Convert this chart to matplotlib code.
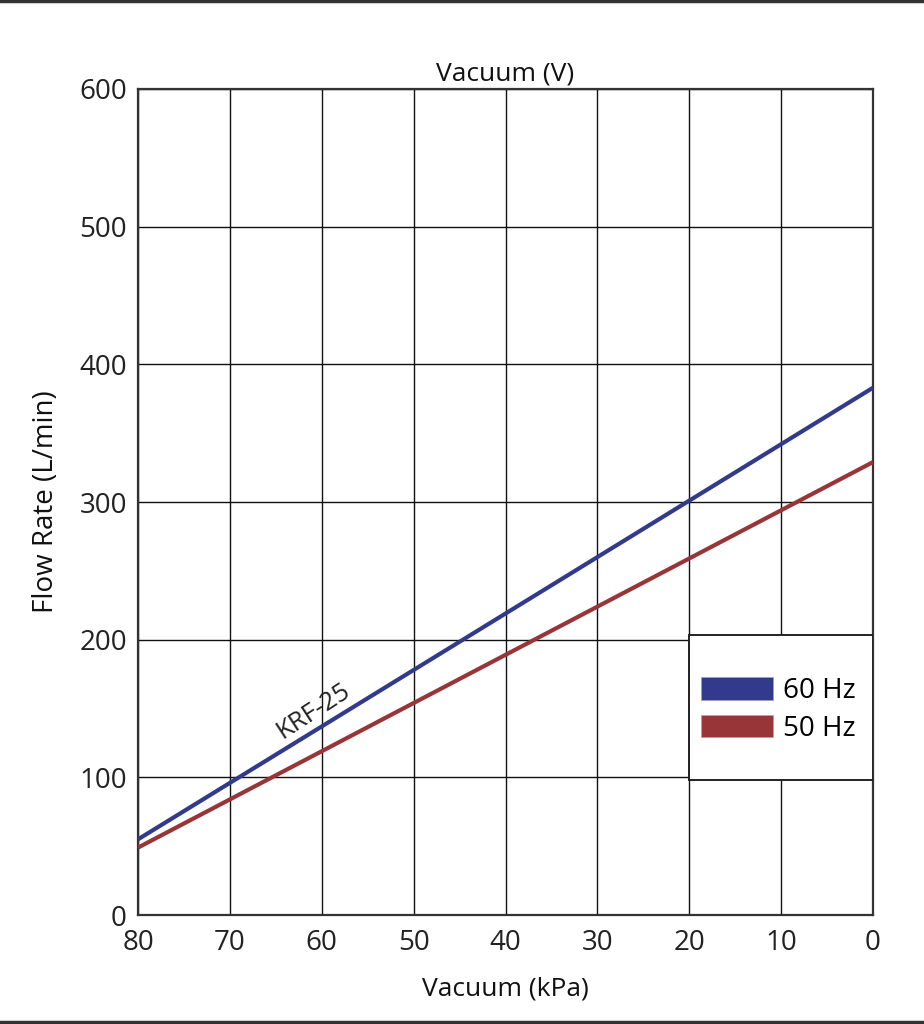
import matplotlib
matplotlib.use("Agg")
import matplotlib.pyplot as plt
from matplotlib.patches import Patch, Rectangle
from matplotlib.lines import Line2D

plt.rcParams['font.family'] = ['Open Sans', 'DejaVu Sans']

# Data
vacuum_kpa = [80, 0]
flow_60hz = [55, 383]
flow_50hz = [49, 329]
series_labels = ["60 Hz", "50 Hz"]
x_ticks = [80, 70, 60, 50, 40, 30, 20, 10, 0]
y_ticks = [0, 100, 200, 300, 400, 500, 600]
model_label = "KRF-25"

blue = "#323a8c"
red = "#973538"

fig = plt.figure(figsize=(9.24, 10.24), dpi=100)
ax = fig.add_axes([0.1494, 0.1064, 0.7954, 0.8067])

ax.plot(vacuum_kpa, flow_60hz, color=blue, lw=3.0, zorder=3, solid_capstyle='butt')
ax.plot(vacuum_kpa, flow_50hz, color=red, lw=3.0, zorder=3, solid_capstyle='butt')

ax.set_xlim(80, 0)
ax.set_ylim(0, 600)
ax.set_xticks(x_ticks)
ax.set_yticks(y_ticks)
ax.tick_params(length=0, labelsize=20, pad=8, colors='#222222')
ax.tick_params(axis='x', pad=10)
ax.grid(True, color='#111111', lw=1.0, zorder=1)
ax.set_axisbelow(True)
for s in ax.spines.values():
    s.set_color('#333333')
    s.set_linewidth(1.6)

ax.set_xlabel("Vacuum (kPa)", fontsize=19, labelpad=14, color='#111111')
ax.set_ylabel("Flow Rate (L/min)", fontsize=20, labelpad=14, color='#111111')
ax.set_title("Vacuum (V)", fontsize=19, pad=6, color='#111111')

ax.text(60.9, 148, model_label, rotation=33, fontsize=18.5, ha='center', va='center',
        color='#222222', zorder=4)

# legend box
bx0, by0, bw, bh = 0.7497, 0.1634, 0.2503, 0.1756
ax.add_patch(Rectangle((bx0, by0), bw, bh, transform=ax.transAxes, facecolor='white',
                       edgecolor='#222222', lw=1.4, zorder=5))
handles = [Patch(facecolor=blue, edgecolor='#9aa0d0', lw=0.5),
           Patch(facecolor=red, edgecolor='#d09a9a', lw=0.5)]
leg = ax.legend(handles, series_labels, loc='center left',
                bbox_to_anchor=(bx0 - 0.002, by0 + bh * 0.5 - 0.003), frameon=False,
                fontsize=20, handlelength=2.57, handleheight=0.86, handletextpad=0.35,
                labelspacing=0.35, borderpad=0.0)
leg.set_zorder(6)

# figure frame lines top and bottom
fig.add_artist(Line2D([0, 1], [0.999, 0.999], transform=fig.transFigure, color='#333333', lw=2.5))
fig.add_artist(Line2D([0, 1], [0.002, 0.002], transform=fig.transFigure, color='#333333', lw=2.5))

fig.savefig("out.png", dpi=100, facecolor='white')
